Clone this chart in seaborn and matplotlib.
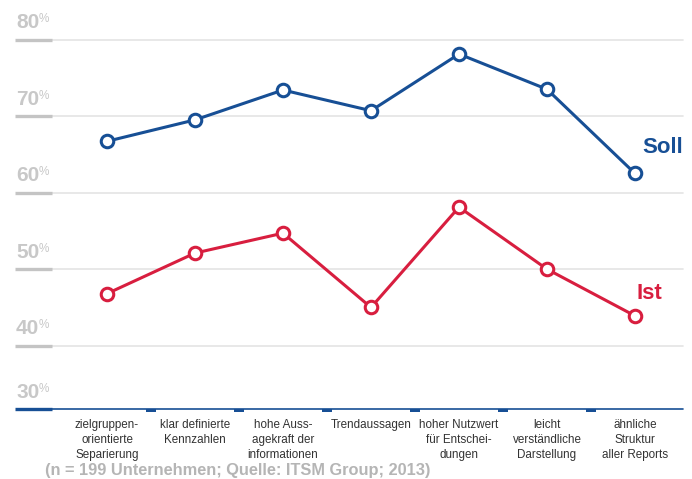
import numpy as np
import pandas as pd
import seaborn as sns
import matplotlib.pyplot as plt

categories = [
    "zielgruppen-\norientierte\nSeparierung",
    "klar definierte\nKennzahlen",
    "hohe Auss-\nagekraft der\ninformationen",
    "Trendaussagen",
    "hoher Nutzwert\nfür Entschei-\ndungen",
    "leicht\nverständliche\nDarstellung",
    "ähnliche\nStruktur\naller Reports",
]
soll = [66.7, 69.5, 73.4, 70.7, 78.1, 73.5, 62.5]
ist = [46.8, 52.1, 54.7, 45.0, 58.1, 50.0, 43.9]
grid_values = [40, 50, 60, 70, 80]
tick_labels = ["30", "40", "50", "60", "70", "80"]
series_names = ["Soll", "Ist"]
footnote = "(n = 199 Unternehmen; Quelle: ITSM Group; 2013)"

BLUE = "#174f95"
RED = "#d81e3f"
GRID_DARK = "#c4c4c4"
GRID_LIGHT = "#e4e4e4"
LABEL_GRAY = "#c8c8c8"

sns.set_theme(style="white")
plt.rcParams["font.family"] = ["Liberation Sans", "DejaVu Sans"]

W, H = 692, 479
fig = plt.figure(figsize=(W / 100, H / 100), dpi=100)
ax = fig.add_axes([0, 0, 1, 1])
ax.set_axis_off()

# pixel geometry of the plotting area
px_per_x = 88.0
x0_px = 107.0
px_per_pct = 7.655
y80_px = 39.5
ax.set_xlim(-x0_px / px_per_x, (W - x0_px) / px_per_x)
ax.set_ylim(80 - (H - y80_px) / px_per_pct, 80 + y80_px / px_per_pct)
base_val = 80 - (409.3 - y80_px) / px_per_pct

xl, xm, xr = 15 / W, 52 / W, 683 / W

# horizontal grid lines with darker left stubs
for v in grid_values:
    ax.axhline(v, xmin=xm, xmax=xr, color=GRID_LIGHT, lw=1.2, zorder=1)
    ax.axhline(v, xmin=xl, xmax=xm, color=GRID_DARK, lw=2.4, zorder=1,
               solid_capstyle="butt")

# baseline
ax.axhline(base_val, xmin=xm, xmax=xr, color=BLUE, lw=1.2, zorder=2)
ax.axhline(base_val, xmin=xl, xmax=xm, color=BLUE, lw=2.4, zorder=2,
           solid_capstyle="butt")
mids = np.arange(len(categories) - 1) + 0.5
tick_h = 2.5 / px_per_pct
for m in mids:
    ax.fill_between([m - 5 / px_per_x, m + 5 / px_per_x],
                    base_val - tick_h, base_val, color=BLUE, lw=0, zorder=2)

# y labels with superscript percent sign
for v, lab in zip([base_val] + grid_values, tick_labels):
    t = ax.text(16 / px_per_x + ax.get_xlim()[0], v + 11.5 / px_per_pct, lab,
                fontsize=15, fontweight="bold", color=LABEL_GRAY,
                ha="left", va="baseline", zorder=3)
    ax.annotate("%", xy=(1, 1), xycoords=t, xytext=(-0.5, 0),
                textcoords="offset points", fontsize=8.5,
                color=LABEL_GRAY, ha="left", va="top")

# data lines
pos = np.arange(len(categories))
df = pd.DataFrame({
    "pos": np.concatenate([pos, pos]),
    "value": soll + ist,
    "series": [series_names[0]] * len(pos) + [series_names[1]] * len(pos),
})
for name, color in zip(series_names, [BLUE, RED]):
    sns.lineplot(data=df[df["series"] == name], x="pos", y="value", ax=ax,
                 color=color, lw=2.2, marker="o", markersize=9,
                 markerfacecolor="white", markeredgecolor=color,
                 markeredgewidth=2.2, legend=False, zorder=4)
ax.set_axis_off()

# series labels at the line ends
ax.annotate(series_names[0], xy=(pos[-1], soll[-1]), xytext=(5, 15),
            textcoords="offset points", fontsize=16, fontweight="bold",
            color=BLUE, ha="left", va="baseline")
ax.annotate(series_names[1], xy=(pos[-1], ist[-1]), xytext=(1, 12),
            textcoords="offset points", fontsize=16, fontweight="bold",
            color=RED, ha="left", va="baseline")

# category labels
label_top = 80 - (419 - y80_px) / px_per_pct
for p, c in zip(pos, categories):
    ax.text(p, label_top, c, fontsize=8.4, color="#333333", ha="center",
            va="top", linespacing=1.35, multialignment="center")

fig.text(45 / W, 1 - 475 / H, footnote, fontsize=11.8, fontweight="bold",
         color="#b5b5b5", ha="left", va="baseline")

fig.savefig("out.png", dpi=100, facecolor="white")
